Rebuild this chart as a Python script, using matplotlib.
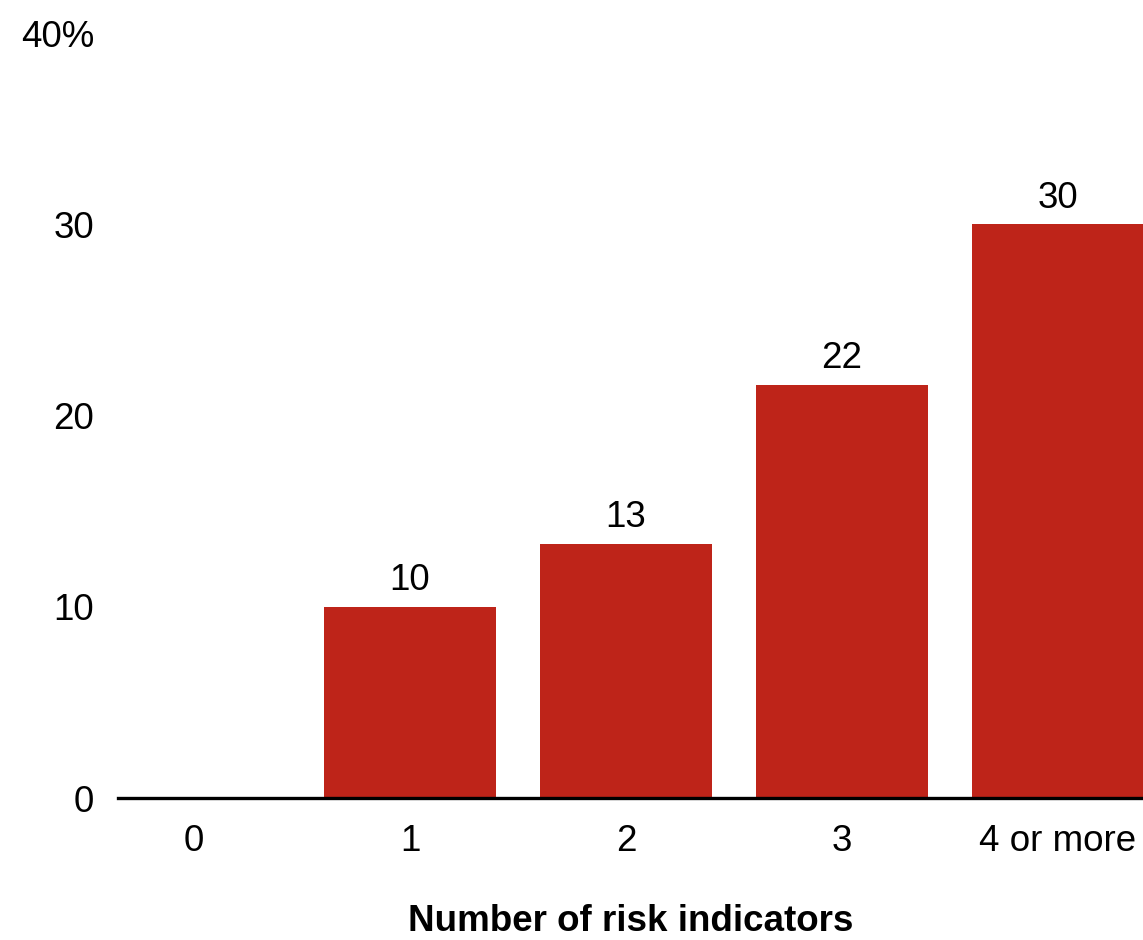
import matplotlib.pyplot as plt

plt.rcParams['font.family'] = ['Liberation Sans', 'DejaVu Sans']

categorias = ["0", "1", "2", "3", "4 or more"]
valores = [0, 10, 13.3, 21.6, 30]
etiquetas_y = ["0", "10", "20", "30", "40%"]
ticks_y = [0, 10, 20, 30, 40]

COLOR_BARRA = "#BE2419"
TAM = 26.5

fig = plt.figure(figsize=(11.43, 9.40), dpi=100)
ax = fig.add_axes([0.1032, 0.151, 0.8968, 0.8138])

x = list(range(len(categorias)))
ax.bar(x, valores, width=0.796, color=COLOR_BARRA, zorder=2)

for xi, v in zip(x, valores):
    if v > 0:
        ax.text(xi, v + 0.45, f"{round(v)}", ha="center", va="bottom", fontsize=TAM)

ax.set_xlim(-0.352, 4.394)
ax.set_ylim(0, 40)
ax.set_yticks(ticks_y)
ax.set_yticklabels(etiquetas_y)
ax.set_xticks(x)
ax.set_xticklabels(categorias)

for lado in ["top", "right", "left"]:
    ax.spines[lado].set_visible(False)
ax.spines["bottom"].set_linewidth(2.4)
ax.spines["bottom"].set_zorder(3)

ax.tick_params(axis="y", length=0, pad=17, labelsize=TAM)
ax.tick_params(axis="x", length=0, pad=19, labelsize=TAM)

ax.set_xlabel("Number of risk indicators", fontsize=TAM, fontweight="bold", labelpad=32)

fig.savefig("out.png", dpi=100)
